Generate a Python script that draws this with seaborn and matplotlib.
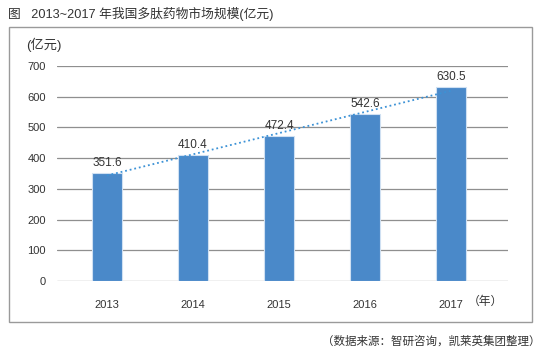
import matplotlib
matplotlib.use("Agg")
import matplotlib.pyplot as plt
import seaborn as sns
import pandas as pd
import numpy as np
from matplotlib.patches import Rectangle

years = ["2013", "2014", "2015", "2016", "2017"]
values = [351.6, 410.4, 472.4, 542.6, 630.5]
yticks = [0, 100, 200, 300, 400, 500, 600, 700]

sns.set_theme(style="white")
plt.rcParams['font.family'] = ['Liberation Sans', 'Noto Sans CJK SC', 'DejaVu Sans']

df = pd.DataFrame({"year": years, "value": values})
df["pos"] = np.arange(len(years))

fig = plt.figure(figsize=(5.41, 3.60), dpi=100)
fig.patch.set_facecolor("white")
ax = fig.add_axes([57/541, 1-281/360, (508-57)/541, (281-66)/360])

for y in yticks:
    ax.axhline(y, color="#8f8f8f", lw=0.9, zorder=0)

sns.barplot(data=df, x="year", y="value", color="#4a89c9", saturation=1,
            width=0.35, edgecolor="#cfe0f2", linewidth=0.8, ax=ax, zorder=2)

sns.regplot(data=df, x="pos", y="value", scatter=False, ci=None, ax=ax,
            line_kws=dict(color="#3c92d6", lw=1.3, linestyle=(0, (1, 1.6)), zorder=3),
            truncate=True)

for i, v in enumerate(values):
    ax.annotate(f"{v:.1f}", (i, v), xytext=(0, 3), textcoords="offset points",
                ha="center", va="bottom", fontsize=8.5, color="#333333", zorder=4)

ax.set_xlim(-0.58, 4.66)
ax.set_ylim(0, 700)
ax.set_yticks(yticks)
ax.set_yticklabels([str(t) for t in yticks])
ax.set_xlabel("")
ax.set_ylabel("")
for s in ax.spines.values():
    s.set_visible(False)
ax.tick_params(axis="y", length=0, pad=8, labelsize=8, labelcolor="#333333")
ax.tick_params(axis="x", length=0, pad=14, labelsize=8, labelcolor="#333333")
ax.set_facecolor("none")

fig.patches.append(Rectangle((9/541, 1-322/360), (532-9)/541, (322-27)/360,
                             transform=fig.transFigure, fill=False,
                             edgecolor="#9a9a9a", lw=1.0))

fig.text(8/541, 1-14/360, "图   2013~2017 年我国多肽药物市场规模(亿元)",
         ha="left", va="center", fontsize=9.2, color="#333333")
fig.text(26/541, 1-45/360, "(亿元)", ha="left", va="center", fontsize=9.5, color="#333333")
fig.text(468/541, 1-302/360, "（年）", ha="left", va="center", fontsize=8.5, color="#333333")
fig.text(541/541, 1-342/360, "（数据来源：智研咨询，凯莱英集团整理）", ha="right", va="center",
         fontsize=8.3, color="#333333")

fig.savefig("out.png", dpi=100, facecolor="white")
